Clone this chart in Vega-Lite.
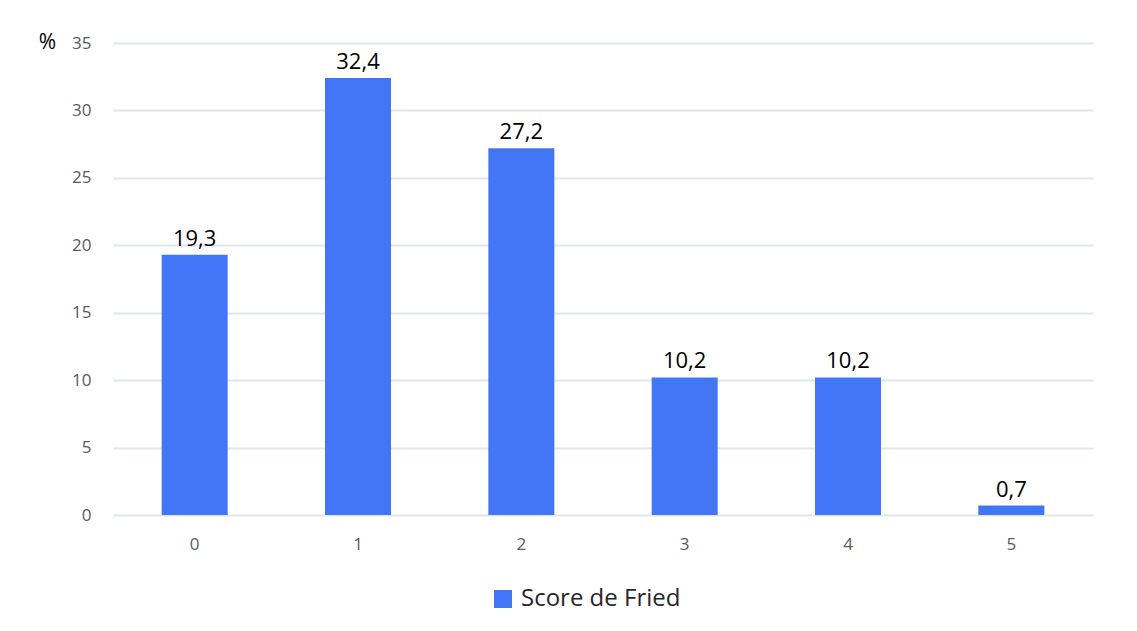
{
  "$schema": "https://vega.github.io/schema/vega-lite/v6.json",
  "width": 980,
  "height": 472,
  "autosize": {"type": "none"},
  "padding": {"left": 113, "top": 43, "right": 44, "bottom": 116},
  "background": "white",
  "config": {
    "view": {"stroke": null},
    "font": "Open Sans",
    "locale": {"number": {"decimal": ",", "thousands": " ", "grouping": [3], "currency": ["", " €"]}}
  },
  "data": {
    "values": [
      {"score": "0", "pct": 19.3, "serie": "Score de Fried"},
      {"score": "1", "pct": 32.4, "serie": "Score de Fried"},
      {"score": "2", "pct": 27.2, "serie": "Score de Fried"},
      {"score": "3", "pct": 10.2, "serie": "Score de Fried"},
      {"score": "4", "pct": 10.2, "serie": "Score de Fried"},
      {"score": "5", "pct": 0.7, "serie": "Score de Fried"}
    ]
  },
  "encoding": {
    "x": {
      "field": "score", "type": "nominal", "sort": null,
      "scale": {"paddingInner": 0.6, "paddingOuter": 0.3},
      "axis": {"title": null, "labelAngle": 0, "domain": false, "ticks": false, "labelPadding": 21, "labelFontSize": 17, "labelColor": "#595959", "labelFont": "Open Sans"}
    },
    "y": {
      "field": "pct", "type": "quantitative",
      "scale": {"domain": [0, 35]},
      "axis": {"title": "%", "titleAngle": 0, "titleX": -66, "titleY": -1, "titleAlign": "center", "titleBaseline": "middle", "titleFontSize": 21, "titleFontWeight": "normal", "titleColor": "#000000",
        "values": [0, 5, 10, 15, 20, 25, 30, 35], "domain": false, "ticks": false, "labelPadding": 22, "labelFontSize": 17, "labelColor": "#595959",
        "gridColor": "#e1e7e7", "gridWidth": 2}
    }
  },
  "layer": [
    {
      "mark": {"type": "bar", "size": 66},
      "encoding": {
        "color": {"field": "serie", "type": "nominal", "scale": {"range": ["#4376f6"]},
          "legend": {"title": null, "orient": "none", "legendX": 378, "legendY": 544, "symbolType": "square", "symbolSize": 324, "labelFontSize": 24, "labelColor": "#262626", "labelFont": "Open Sans", "labelOffset": 6}}
      }
    },
    {
      "mark": {"type": "text", "dy": -9, "baseline": "alphabetic", "fontSize": 22, "color": "#000000"},
      "encoding": {"text": {"field": "pct", "type": "quantitative", "format": ".1f"}}
    }
  ]
}
